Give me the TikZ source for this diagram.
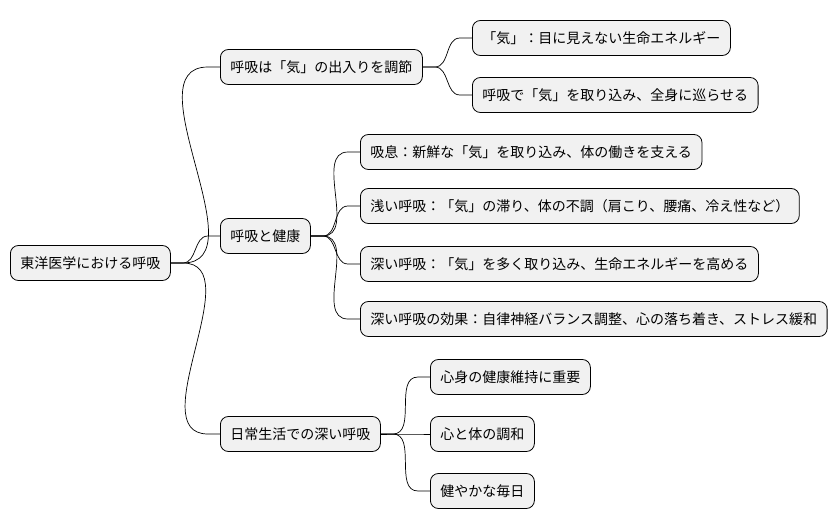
\documentclass[tikz,border=0pt]{standalone}
\usepackage{fontspec}
\setmainfont{Noto Sans CJK JP}
\definecolor{boxfill}{HTML}{F1F1F1}
\tikzset{
  topic/.style={draw=black, line width=0.8pt, fill=boxfill, rounded corners=8pt,
    minimum height=35pt, inner xsep=10pt, font=\fontsize{14}{16}\selectfont},
  link/.style={line width=0.7pt}
}
\begin{document}
\begin{tikzpicture}[x=1pt,y=-1pt]
\useasboundingbox (0,0) rectangle (838,527);
\node[topic, anchor=west] (root) at (10,263) {東洋医学における呼吸};
\node[topic, anchor=west] (flow) at (220,67) {呼吸は「気」の出入りを調節};
\node[topic, anchor=west] (health) at (220,236) {呼吸と健康};
\node[topic, anchor=west] (daily) at (220,434) {日常生活での深い呼吸};
\node[topic, anchor=west] (ki) at (472,38) {「気」：目に見えない生命エネルギー};
\node[topic, anchor=west] (take) at (472,95) {呼吸で「気」を取り込み、全身に巡らせる};
\node[topic, anchor=west] (inhale) at (360,152) {吸息：新鮮な「気」を取り込み、体の働きを支える};
\node[topic, anchor=west] (shallow) at (360,206) {浅い呼吸：「気」の滞り、体の不調（肩こり、腰痛、冷え性など）};
\node[topic, anchor=west] (deep) at (360,264) {深い呼吸：「気」を多く取り込み、生命エネルギーを高める};
\node[topic, anchor=west] (effect) at (360,319) {深い呼吸の効果：自律神経バランス調整、心の落ち着き、ストレス緩和};
\node[topic, anchor=west] (keep) at (430,377) {心身の健康維持に重要};
\node[topic, anchor=west] (harmony) at (430,434) {心と体の調和};
\node[topic, anchor=west] (everyday) at (430,491) {健やかな毎日};
% connectors
\foreach \a/\b in {root/flow, root/health, root/daily, flow/ki, flow/take,
  health/inhale, health/shallow, health/deep, health/effect,
  daily/keep, daily/harmony, daily/everyday}
  \draw[link] (\a.east) -- ++(12,0) to[out=0,in=180] ([xshift=-12pt]\b.west) -- (\b.west);
\end{tikzpicture}
\end{document}
